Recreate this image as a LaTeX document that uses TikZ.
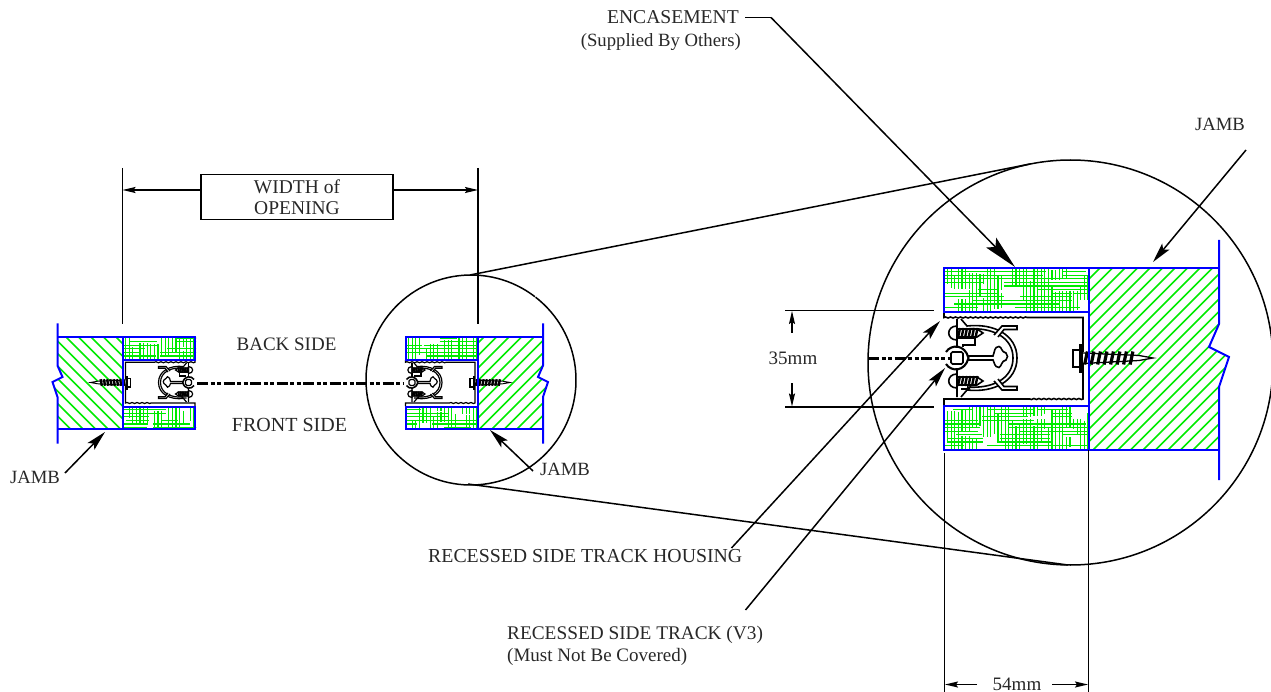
\documentclass[tikz,border=0pt]{standalone}
\usepackage{fontspec}
\setmainfont{Liberation Serif}
\usetikzlibrary{arrows.meta,decorations.pathmorphing}
\definecolor{wallblue}{RGB}{0,0,255}
\definecolor{hatchgreen}{RGB}{0,235,0}
\definecolor{labelink}{RGB}{40,40,40}
\tikzset{
  lbl/.style={font=\fontsize{#1}{21}\selectfont,text=labelink,inner sep=0pt,align=center},
  lbl/.default=19,
  dimline/.style={line width=1.5pt,black},
  circline/.style={line width=1.5pt,black},
  leader/.style={line width=1.5pt,black,-{Stealth[length=20pt,width=9.5pt,inset=4pt]}},
  bigleader/.style={line width=1.5pt,black,-{Stealth[length=34pt,width=14pt,inset=6pt]}},
  dimarrow/.style={line width=1.5pt,black,-{Stealth[length=13pt,width=6pt,inset=2pt]}},
  blueline/.style={wallblue,line width=2pt},
  hatchline/.style={hatchgreen,line width=1.5pt},
  wovenline/.style={hatchgreen,line width=1.2pt},
  centre/.style={black,line width=3pt,dash pattern=on 11pt off 2.5pt on 4pt off 2.5pt on 4pt off 2.5pt},
}
\newcommand\jambhatch[5]{%
  \foreach \k in {-30,...,30}{
    \pgfmathsetmacro{\xa}{(#1+#3)/2+\k*12.5}
    \draw[hatchline] (\xa-150*#5,#2/2+#4/2+150) -- (\xa+150*#5,#2/2+#4/2-150);
  }}
\newcommand\wovenhatch[5]{%
  \pgfmathsetseed{#5}%
  \begin{scope}
    \clip (#1,#2) rectangle (#3,#4);
    \pgfmathsetmacro{\wid}{#3-#1}
    \pgfmathsetmacro{\hei}{#4-#2}
    \pgfmathtruncatemacro{\nclu}{\wid*\hei/65}
    \foreach \q in {1,...,\nclu}{
      \pgfmathsetmacro{\px}{#1+rnd*\wid}
      \pgfmathsetmacro{\py}{#2+3.6*round(rnd*\hei/3.6)}
      \pgfmathsetmacro{\ln}{14+rnd*26}
      \pgfmathsetmacro{\pp}{rnd}
      \ifdim\pp pt<0.5pt
        \foreach \s in {0,3.6}{\draw[wovenline] (\px-\ln/2,\py+\s) -- (\px+\ln/2,\py+\s);}
      \else
        \pgfmathsetmacro{\pxx}{#1+3.6*round((\px-#1)/3.6)}
        \foreach \s in {0,3.6,7.2}{\draw[wovenline] (\pxx+\s,\py-\ln/3) -- (\pxx+\s,\py+\ln/3);}
      \fi
    }
  \end{scope}}
\newcommand\trackscrew[2]{%
  \draw[fill=white,line width=#2] (-132,#1-7) .. controls (-143,#1-7) and (-143,#1+7) .. (-132,#1+7) -- cycle;
  \draw[fill=white,line width=#2] (-132,#1-4) -- (-112,#1-4) -- (-106,#1) -- (-112,#1+4) -- (-132,#1+4) -- cycle;
  \foreach \t in {-130,-126.5,-123,-119.5,-116,-112.5}{
    \draw[line width=1.5*#2] (\t+1,#1-5) -- (\t-1,#1+5);}
}
\newcommand\assemblylines[5]{%
\begin{scope}[shift={(#1,#2)},xscale=#3,yscale=#4]
  \fill[white] (-145,-46) rectangle (-1,46);
  \draw[line width=#5] (-145,-46) -- (-145,-41.5)
     decorate[decoration={snake,amplitude=0.5pt,segment length=5pt}]{ -- (-61,-41.5)} -- (-6,-41.5) -- (-6,40)
     decorate[decoration={snake,amplitude=0.5pt,segment length=5pt}]{ -- (-61,40)} -- (-145,40) -- (-145,46);
  \draw[line width=#5,fill=white] (-128,-40) -- (-122,-33) .. controls (-95,-36) and (-72,-24) .. (-72,-1) .. controls (-72,22) and (-95,34) .. (-122,31) -- (-128,38);
  \draw[line width=#5] (-122,-30) .. controls (-97,-32) and (-76,-22) .. (-76,-1) .. controls (-76,20) and (-97,30) .. (-122,28);
  \draw[line width=#5,fill=white] (-95,-24) -- (-87,-33) -- (-72,-33) -- (-72,-29.5) -- (-85,-29.5) -- (-91,-22);
  \draw[line width=#5,fill=white] (-95,22) -- (-87,31) -- (-72,31) -- (-72,27.5) -- (-85,27.5) -- (-91,20);
  \draw[line width=#5] (-132,-40) -- (-132,-13) (-132,-21) -- (-114,-21) -- (-114,-14) -- (-126,-14) -- (-126,-12);
  \draw[line width=#5] (-132,38) -- (-132,11) (-132,19) -- (-114,19) -- (-120,30) -- (-128,30);
  \trackscrew{-26}{#5}
  \trackscrew{22}{#5}
  \draw[line width=#5,fill=white] (-122,-3) -- (-96,-3) .. controls (-94,-8) and (-95,-12) .. (-90,-12.5) .. controls (-87,-12) and (-88,-7) .. (-83,-6) .. controls (-81,-4) and (-81,-1) .. (-83,1) .. controls (-88,2) and (-87,7) .. (-90,8.5) .. controls (-95,8) and (-94,4) .. (-96,1) -- (-122,1) -- cycle;
  \fill[white] (-132,-1) circle[radius=11pt];
  \draw[line width=1.3*#5] (-143,-7) .. controls (-138,-15) and (-124,-15) .. (-120.5,-1) .. controls (-124,13) and (-138,13) .. (-143,5);
  \draw[line width=#5,rounded corners=1.5pt] (-138,-7) rectangle (-126,5);
  \draw[line width=#5,fill=white] (-16,-9) rectangle (-8,8);
  \fill (-10,-15) rectangle (-6,14);
  \fill[white] (-6,-7) -- (50,-4) -- (64,-1) -- (50,2) -- (-6,5) -- cycle;
  \draw[line width=0.8*#5] (-6,-6) -- (50,-3.5) -- (64,-1) -- (50,1.5) -- (-6,4.5);
  \foreach \t in {-3,3.5,...,48}{
    \draw[line width=2*#5] (\t+1.4,-7.5) -- (\t-1.4,5.5);}
\end{scope}}
\newcommand\assemblyblue[4]{%
\begin{scope}[shift={(#1,#2)},xscale=#3,yscale=#4]
  \draw[blueline] (0,-91) -- (-145,-91) -- (-145,-47) -- (0,-47);
  \draw[blueline] (0,91) -- (-145,91) -- (-145,47) -- (0,47);
  \draw[blueline] (0,-91) -- (130,-91) (0,91) -- (130,91) (0,-91) -- (0,91);
  \draw[blueline] (130,-119) -- (130,-35) -- (120,-12) -- (140,-2) -- (130,28) -- (130,121);
\end{scope}}
\begin{document}
\begin{tikzpicture}[x=1pt,y=-1pt]
\useasboundingbox (0,0) rectangle (1271,692);
\fill[white] (0,0) rectangle (1271,692);

\begin{scope}
  \clip (1089,268) -- (1219,268) -- (1219,324) -- (1209,347) -- (1229,357) -- (1219,387) -- (1219,450) -- (1089,450) -- cycle;
  \jambhatch{1089}{268}{1229}{450}{1}
\end{scope}
\begin{scope}
  \clip (478,338) -- (543,338) -- (543,365.5) -- (538,377) -- (548,382) -- (543,397) -- (543,428) -- (478,428) -- cycle;
  \jambhatch{478}{338}{548}{428}{1}
\end{scope}
\begin{scope}
  \clip (122.5,338) -- (57.5,338) -- (57.5,365.5) -- (62.5,377) -- (52.5,382) -- (57.5,397) -- (57.5,428) -- (122.5,428) -- cycle;
  \jambhatch{52}{338}{122}{428}{-1}
\end{scope}
\wovenhatch{944}{268}{1089}{312}{11}
\wovenhatch{944}{406}{1089}{450}{23}
\wovenhatch{405}{338}{478}{360}{37}
\wovenhatch{405}{406}{478}{428}{41}
\wovenhatch{122}{338}{196}{360}{53}
\wovenhatch{122}{406}{196}{428}{67}

\coordinate (smallc) at (471,380);
\coordinate (bigc) at (1070.5,362.5);
\draw[circline] (471,380) ++(52:105pt) arc[start angle=52,end angle=-307.5,radius=105pt];
\draw[circline] (bigc) circle[radius=202.5pt];
\coordinate (t1a) at (470,275); \coordinate (t1b) at (1030,164);
\coordinate (t2a) at (468,484); \coordinate (t2b) at (1068,565);
\draw[circline] (t1a) -- (t1b);
\draw[circline] (t2a) -- (t2b);

\assemblylines{1089}{359}{1}{1}{1.6pt}
\assemblylines{478}{383}{0.5}{0.5}{1.2pt}
\assemblylines{122.5}{383}{-0.5}{0.5}{1.2pt}
\assemblyblue{1089}{359}{1}{1}
\assemblyblue{478}{383}{0.5}{0.5}
\assemblyblue{122.5}{383}{-0.5}{0.5}

\coordinate (cl1a) at (197,383); \coordinate (cl1b) at (404,383);
\draw[centre] (cl1a) -- (cl1b);
\coordinate (cl2a) at (868,358); \coordinate (cl2b) at (950,358);
\draw[centre] (cl2a) -- (cl2b);

\coordinate (wl) at (122.5,168); \coordinate (wlb) at (122.5,324);
\coordinate (wr) at (478,168); \coordinate (wrb) at (478,324);
\draw[dimline] (wl) -- (wlb);
\draw[dimline] (wr) -- (wrb);
\node[draw=black,line width=1.5pt,lbl=19.5,minimum width=192pt,minimum height=45pt] (widthbox) at (297,197) {WIDTH of\\OPENING};
\coordinate (wla) at (122.5,190); \coordinate (wra) at (478,190);
\draw[dimarrow] (widthbox.west |- wla) -- (wla);
\draw[dimarrow] (widthbox.east |- wra) -- (wra);

\node[lbl=19] (back) at (286.5,344) {BACK SIDE};
\node[lbl=20] (front) at (289.5,424.5) {FRONT SIDE};

\node[lbl=19.6,anchor=east] (enc) at (739,17.5) {ENCASEMENT};
\node[lbl=18.7,anchor=east] (encb) at (741,42) {(Supplied By Others)};
\coordinate (encs) at (745,17.5); \coordinate (encm) at (771,17.5); \coordinate (enct) at (1015,267);
\draw[circline] (encs) -- (encm);
\draw[bigleader] (encm) -- (enct);

\node[lbl=18.7] (jamb1) at (1220,124) {JAMB};
\coordinate (j1s) at (1246,150); \coordinate (j1t) at (1153,262);
\draw[leader] (j1s) -- (j1t);

\node[lbl=18.7] (jamb2) at (35,477) {JAMB};
\coordinate (j2s) at (65,473); \coordinate (j2t) at (105,432);
\draw[leader] (j2s) -- (j2t);

\node[lbl=18.7] (jamb3) at (565,469) {JAMB};
\coordinate (j3s) at (533,471); \coordinate (j3t) at (490,430);
\draw[leader] (j3s) -- (j3t);

\node[lbl=19.8,anchor=west] (hous) at (428,556) {RECESSED SIDE TRACK HOUSING};
\coordinate (hs) at (731.5,548); \coordinate (ht) at (940,321);
\draw[leader] (hs) -- (ht);

\node[lbl=19.3,anchor=west] (track) at (507,635) {RECESSED SIDE TRACK (V3)};
\node[lbl=19,anchor=west] (trackb) at (507,657) {(Must Not Be Covered)};
\coordinate (ts) at (745.5,610); \coordinate (tt) at (945,368);
\draw[leader] (ts) -- (tt);

\coordinate (d1a) at (785,310.5); \coordinate (d1b) at (934,310.5);
\coordinate (d2a) at (785,407); \coordinate (d2b) at (934,407);
\draw[dimline] (d1a) -- (d1b);
\draw[dimline] (d2a) -- (d2b);
\coordinate (d3s) at (792,333); \coordinate (d3t) at (792,311);
\coordinate (d4s) at (792,383); \coordinate (d4t) at (792,406.5);
\draw[dimarrow] (d3s) -- (d3t);
\draw[dimarrow] (d4s) -- (d4t);
\node[lbl=19] (d35) at (793,358) {35mm};

\coordinate (e1a) at (944.5,453); \coordinate (e1b) at (944.5,692);
\coordinate (e2a) at (1088.5,450); \coordinate (e2b) at (1088.5,692);
\draw[dimline] (e1a) -- (e1b);
\draw[dimline] (e2a) -- (e2b);
\coordinate (e3s) at (977,684.5); \coordinate (e3t) at (945,684.5);
\coordinate (e4s) at (1052,684.5); \coordinate (e4t) at (1088,684.5);
\draw[dimarrow] (e3s) -- (e3t);
\draw[dimarrow] (e4s) -- (e4t);
\node[lbl=19] (d54) at (1017,684) {54mm};
\end{tikzpicture}
\end{document}
